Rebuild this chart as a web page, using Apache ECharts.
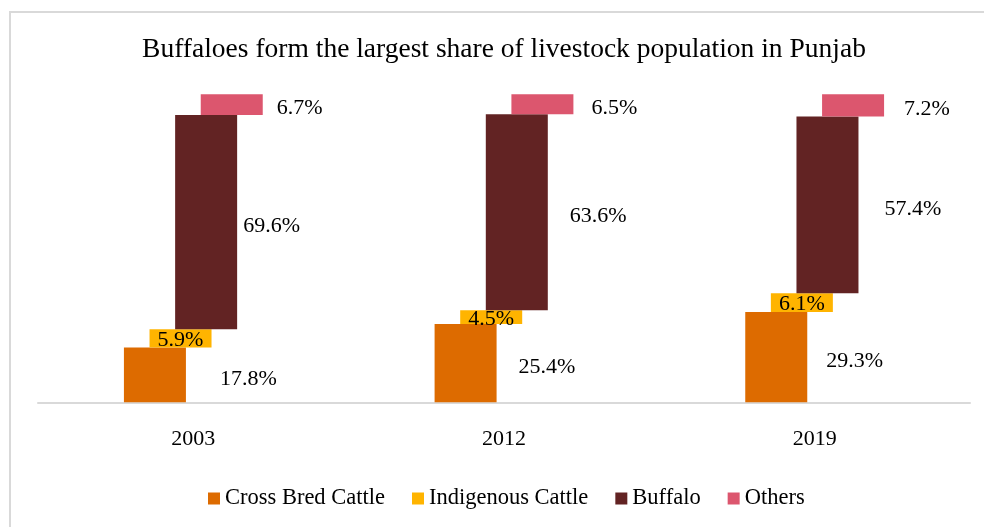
<!DOCTYPE html>
<html>
<head>
<meta charset="utf-8">
<script src="https://cdn.jsdelivr.net/npm/echarts@6/dist/echarts.min.js"></script>
<style>
html,body{margin:0;padding:0;background:#fff;}
#chart{width:984px;height:527px;}
</style>
</head>
<body>
<div id="chart"></div>
<script>
// ---- data ----
const categories = ['2003', '2012', '2019'];
const seriesNames = ['Cross Bred Cattle', 'Indigenous Cattle', 'Buffalo', 'Others'];
const crossBred = [17.8, 25.4, 29.3];
const indigenous = [5.9, 4.5, 6.1];
const buffalo = [69.6, 63.6, 57.4];
const others = [6.7, 6.5, 7.2];

// ---- styling (kept separate from data) ----
const colors = ['#DD6B00', '#FFB400', '#622323', '#DC566E'];
const labelPos = ['right', 'inside', 'right', 'right'];
const labelDist = [[34, 22, 19], [0, 0, 0], [6, 22, 26], [14, 18, 20]];
const FONT = 'Liberation Serif, Times New Roman, serif';

const values = [crossBred, indigenous, buffalo, others];
// running base for each piece (waterfall)
const bases = values.map((v, si) =>
  categories.map((c, ci) => {
    let s = 0;
    for (let k = 0; k < si; k++) s += values[k][ci];
    return +s.toFixed(2);
  })
);

const series = [];
values.forEach((vals, si) => {
  series.push({
    name: 'base' + si,
    type: 'bar',
    stack: 's' + si,
    barWidth: 62,
    barGap: '-58.7%',
    silent: true,
    itemStyle: { color: 'transparent' },
    emphasis: { disabled: true },
    tooltip: { show: false },
    data: bases[si]
  });
  series.push({
    name: seriesNames[si],
    type: 'bar',
    stack: 's' + si,
    barWidth: 62,
    barGap: '-58.7%',
    itemStyle: { color: colors[si] },
    label: {
      show: true,
      position: labelPos[si],
      color: '#000',
      fontFamily: FONT,
      fontSize: 22,
      offset: [0, si === 1 ? 2 : 4],
      formatter: p => p.value.toFixed(1) + '%'
    },
    data: vals.map((v, ci) => ({
      value: v,
      label: { distance: labelDist[si][ci] }
    }))
  });
});

const chart = echarts.init(document.getElementById('chart'));
chart.setOption({
  animation: false,
  backgroundColor: '#fff',
  textStyle: { fontFamily: FONT },
  graphic: [{
    type: 'rect',
    shape: { x: 10, y: 12, width: 1000, height: 600 },
    style: { fill: 'none', stroke: '#d9d9d9', lineWidth: 2 },
    silent: true
  }],
  title: {
    text: 'Buffaloes form the largest share of livestock population in Punjab',
    left: 504,
    textAlign: 'center',
    top: 36,
    padding: 0,
    textStyle: { fontFamily: FONT, fontSize: 27.5, fontWeight: 'normal', color: '#000' }
  },
  legend: {
    data: seriesNames,
    left: 208,
    top: 487,
    padding: 0,
    itemWidth: 12,
    itemHeight: 12,
    itemGap: 27,
    icon: 'rect',
    textStyle: { fontFamily: FONT, fontSize: 22.5, color: '#000' }
  },
  grid: { left: 38, right: 14, top: 94.3, bottom: 124.7, containLabel: false },
  xAxis: {
    type: 'category',
    data: categories,
    axisLine: { lineStyle: { color: '#d9d9d9', width: 2 } },
    axisTick: { show: false },
    axisLabel: { fontFamily: FONT, fontSize: 22, color: '#000', margin: 26 }
  },
  yAxis: {
    type: 'value',
    min: 0,
    max: 100,
    show: false,
    splitLine: { show: false }
  },
  series: series
});
</script>
</body>
</html>
